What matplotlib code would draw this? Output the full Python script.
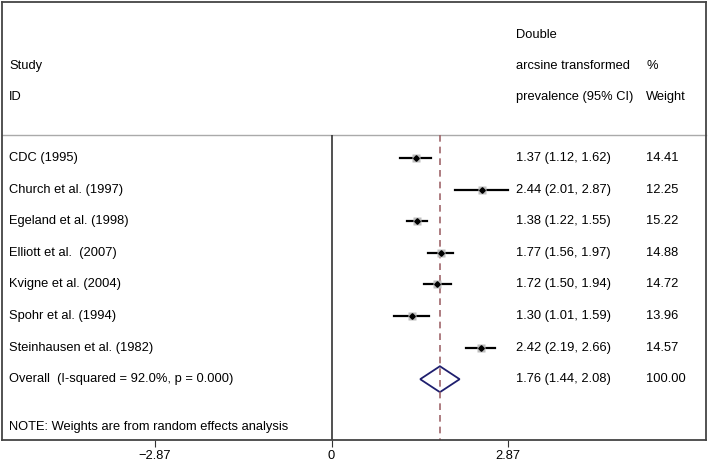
import numpy as np
import matplotlib.pyplot as plt

plt.rcParams['font.family'] = ['Liberation Sans', 'DejaVu Sans']

studies = ["CDC (1995)", "Church et al. (1997)", "Egeland et al. (1998)",
           "Elliott et al.  (2007)", "Kvigne et al. (2004)", "Spohr et al. (1994)",
           "Steinhausen et al. (1982)"]
es = [1.37, 2.44, 1.38, 1.77, 1.72, 1.30, 2.42]
lo = [1.12, 2.01, 1.22, 1.56, 1.50, 1.01, 2.19]
hi = [1.62, 2.87, 1.55, 1.97, 1.94, 1.59, 2.66]
weights = [14.41, 12.25, 15.22, 14.88, 14.72, 13.96, 14.57]
overall_label = "Overall  (I-squared = 92.0%, p = 0.000)"
overall = [1.76, 1.44, 2.08]
overall_weight = 100.00
xticks = [-2.87, 0, 2.87]
note = "NOTE: Weights are from random effects analysis"

fig = plt.figure(figsize=(7.08, 4.62), dpi=100)
ax = fig.add_axes([2 / 708, 22 / 462, 704 / 708, 438 / 462])

px = 61.6  # pixels per unit
x0 = 331.5
ax.set_xlim((2 - x0) / px, (706 - x0) / px)
rowh = 31.6
ax.set_ylim((440 - 158) / rowh, (2 - 158) / rowh)

def xcol(p):
    return (p - x0) / px

fs = 9.3
top_sep = (135 - 158) / rowh
ybot = (440 - 158) / rowh

ax.plot([ax.get_xlim()[0], ax.get_xlim()[1]], [top_sep, top_sep], color="#aaaaaa", lw=1, clip_on=False)
ax.vlines(0, top_sep, ybot, color="#333333", lw=1.2)
ax.vlines(overall[0], top_sep, ybot, color="#a0666b", lw=1.2, linestyles=(0, (4, 3)))

# header
ax.text(xcol(9), -2.91, "Study", fontsize=fs, va="center")
ax.text(xcol(9), -1.93, "ID", fontsize=fs, va="center")
ax.text(xcol(516), -3.89, "Double", fontsize=fs, va="center")
ax.text(xcol(516), -2.91, "arcsine transformed", fontsize=fs, va="center")
ax.text(xcol(516), -1.93, "prevalence (95% CI)", fontsize=fs, va="center")
ax.text(xcol(646), -2.91, "%", fontsize=fs, va="center")
ax.text(xcol(646), -1.93, "Weight", fontsize=fs, va="center")

for i, name in enumerate(studies):
    ax.plot([lo[i], hi[i]], [i, i], color="black", lw=1.6)
    ax.plot(es[i], i, marker="s", ms=np.sqrt(weights[i]) * 1.5, color="#bdbdbd", mec="none")
    ax.plot(es[i], i, marker="D", ms=2.8, color="black")
    ax.text(xcol(9), i, name, fontsize=fs, va="center")
    ax.text(xcol(516), i, f"{es[i]:.2f} ({lo[i]:.2f}, {hi[i]:.2f})", fontsize=fs, va="center")
    ax.text(xcol(646), i, f"{weights[i]:.2f}", fontsize=fs, va="center")

k = len(studies)
dh = 0.41
ax.fill([overall[1], overall[0], overall[2], overall[0], overall[1]],
        [k, k - dh, k, k + dh, k], facecolor="none", edgecolor="#1f1f6e", lw=1.3)
ax.text(xcol(9), k, overall_label, fontsize=fs, va="center")
ax.text(xcol(516), k, f"{overall[0]:.2f} ({overall[1]:.2f}, {overall[2]:.2f})", fontsize=fs, va="center")
ax.text(xcol(646), k, f"{overall_weight:.2f}", fontsize=fs, va="center")

ax.text(xcol(9), (427 - 158) / rowh, note, fontsize=fs, va="center")

for s in ax.spines.values():
    s.set_color("#444444")
    s.set_linewidth(1.3)
ax.set_yticks([])
ax.set_xticks(xticks)
ax.set_xticklabels(["\u22122.87", "0", "2.87"], fontsize=fs)
ax.tick_params(axis="x", direction="out", length=5, color="#333333", pad=2)

fig.savefig("out.png", dpi=100)
